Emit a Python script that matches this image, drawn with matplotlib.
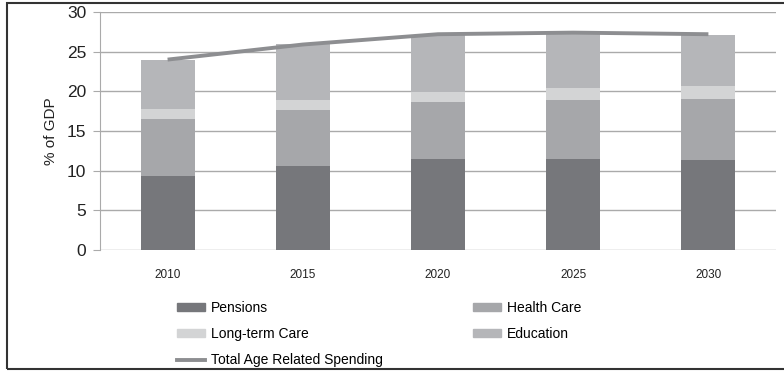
import matplotlib
matplotlib.use("Agg")
import matplotlib.pyplot as plt
from matplotlib.patches import Patch, Rectangle
from matplotlib.lines import Line2D
import numpy as np

plt.rcParams['font.family'] = ['Liberation Sans', 'DejaVu Sans']

years = ["2010", "2015", "2020", "2025", "2030"]
pensions = [9.3, 10.6, 11.45, 11.45, 11.35]
health_care = [7.2, 7.1, 7.25, 7.5, 7.7]
long_term_care = [1.3, 1.2, 1.2, 1.45, 1.65]
education = [6.2, 7.1, 7.2, 6.8, 6.4]
total = [24.0, 25.9, 27.2, 27.4, 27.2]

c_pen = "#76777b"
c_hc = "#a6a7aa"
c_ltc = "#d3d4d5"
c_edu = "#b5b6b9"
c_line = "#8d8e91"

fig = plt.figure(figsize=(7.84, 3.71), dpi=100)
ax = fig.add_axes([100/784, 1-250/371, 676/784, 238/371])

x = np.arange(len(years))
w = 0.4
b1 = np.array(pensions)
b2 = b1 + np.array(health_care)
b3 = b2 + np.array(long_term_care)
ax.bar(x, pensions, w, color=c_pen, zorder=2)
ax.bar(x, health_care, w, bottom=b1, color=c_hc, zorder=2)
ax.bar(x, long_term_care, w, bottom=b2, color=c_ltc, zorder=2)
ax.bar(x, education, w, bottom=b3, color=c_edu, zorder=2)
ax.plot(x, total, color=c_line, lw=2.8, zorder=3, solid_capstyle='butt')

ax.set_xlim(-0.5, 4.5)
ax.set_ylim(0, 30)
ax.set_yticks(range(0, 31, 5))
ax.set_xticks(x)
ax.set_xticklabels(years, fontsize=8.5, color="#222222")
ax.tick_params(axis='x', length=0, pad=14)
ax.tick_params(axis='y', length=5, color="#aaaaaa", labelsize=12.5, labelcolor="#222222", pad=5)
ax.yaxis.grid(True, color="#aaaaaa", lw=1, zorder=0)
ax.set_axisbelow(True)
for s in ["top", "right", "bottom"]:
    ax.spines[s].set_visible(False)
ax.spines["left"].set_color("#aaaaaa")
ax.set_ylabel("% of GDP", fontsize=11, color="#222222", labelpad=6)

handles = [Patch(color=c_pen), Patch(color=c_ltc), Line2D([], [], color=c_line, lw=2.8),
           Patch(color=c_hc), Patch(color=c_edu)]
labels = ["Pensions", "Long-term Care", "Total Age Related Spending", "Health Care", "Education"]
fig.legend(handles, labels, ncol=2, loc="upper left", bbox_to_anchor=(177/784, 1-301/371),
           frameon=False, fontsize=10, handlelength=2.0, handleheight=0.5,
           handletextpad=0.43, labelspacing=0.88, columnspacing=6.5, borderpad=0, borderaxespad=0)

fig.patches.append(Rectangle((6.5/784, 2/371), 1.2, 366.5/371, transform=fig.transFigure,
                             fill=False, edgecolor="#333333", lw=1.5))

fig.savefig("out.png", dpi=100)
